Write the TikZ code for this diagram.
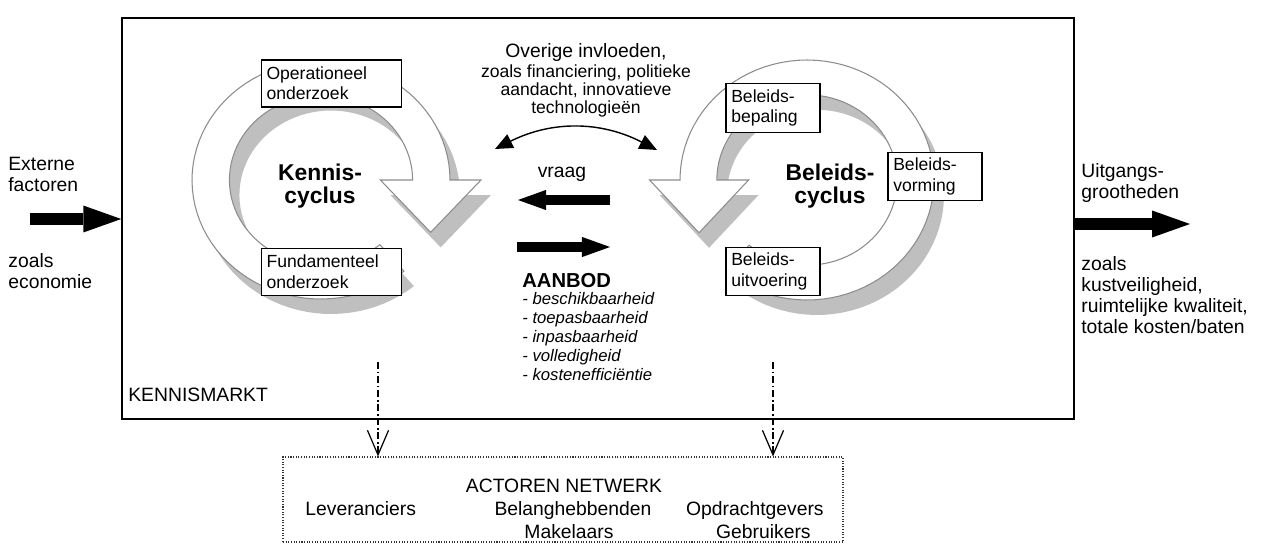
\documentclass[tikz,border=0pt]{standalone}
\usepackage{fontspec}
\setmainfont{Liberation Sans}
\usepackage{tikz}
\usetikzlibrary{arrows.meta, positioning, fit}

\begin{document}
\begin{tikzpicture}[
    x=0.02cm, y=-0.02cm,
    ring/.pic={
        \path[pic actions] plot[domain=50:360, samples=80, variable=\t] ({cos(\t)}, {sin(\t)})
            -- (1.24,0) -- (0.85,0.44) -- (0.46,0)
            -- plot[domain=360:50, samples=80, variable=\t] ({0.71*cos(\t)}, {0.71*sin(\t)}) -- cycle;
    },
    ringshadow/.style={fill=black!25},
    ringfill/.style={fill=white, draw=black!45, line width=0.6pt},
    labelbox/.style={rectangle, draw, fill=white, line width=0.7pt, text width=#1, minimum height=0.94cm, inner xsep=3pt, align=left, font=\fontsize{10}{11.5}\selectfont},
    cyclename/.style={align=center, inner sep=0pt, font=\fontsize{13}{13.5}\selectfont\bfseries},
    txt/.style={inner sep=0pt, align=left, font=\fontsize{11}{12}\selectfont},
    bigarrow/.style={line width=6.8pt, -{Triangle[length=21.5pt, width=15.3pt, line width=0pt]}},
    midarrow/.style={line width=5.7pt, -{Triangle[length=16pt, width=11.5pt, line width=0pt]}},
    bendarrow/.style={line width=0.8pt, {Triangle[length=10pt, width=8.5pt]}-{Triangle[length=10pt, width=8.5pt]}},
    dasharrow/.style={line width=0.7pt, dash pattern=on 4pt off 1.5pt on 1pt off 1.5pt, -{Straight Barb[length=14pt, width=12pt]}}
]
\useasboundingbox (0,0) rectangle (1271,544);

\coordinate (marktlb) at (122,18);
\coordinate (marktro) at (1074,419);
\node[draw, line width=0.9pt, inner sep=0pt, fit=(marktlb)(marktro)] (markt) {};
\node[txt, anchor=base west] (marktnaam) at (128,401) {KENNISMARKT};

\pic[ringshadow, shift={(331,195)}, xscale=129, yscale=119] {ring};
\pic[ringshadow, shift={(817,195)}, xscale=-127, yscale=120] {ring};
\pic[ringfill, shift={(321,180)}, xscale=129, yscale=119] {ring};
\pic[ringfill, shift={(807,180)}, xscale=-127, yscale=120] {ring};

\node[cyclename] (kennis) at (320,186) {Kennis-\\cyclus};
\node[cyclename] (beleid) at (830,186) {Beleids-\\cyclus};

\node[labelbox=2.6cm] (operationeel) at (331.5,83.5) {Operationeel\\onderzoek};
\node[labelbox=2.6cm, below=2.8cm of operationeel] (fundamenteel) {Fundamenteel\\onderzoek};
\node[labelbox=1.67cm] (bepaling) at (773,108) {Beleids-\\bepaling};
\node[labelbox=1.67cm, below=2.28cm of bepaling] (uitvoering) {Beleids-\\uitvoering};
\node[labelbox=1.67cm] (vorming) at (935,176.5) {Beleids-\\vorming};

\node[align=center, inner sep=0pt, font=\fontsize{10}{10.3}\selectfont, anchor=north] (overig) at (586,43)
    {{\fontsize{11}{13}\selectfont Overige invloeden,}\\[1pt]zoals financiering, politieke\\aandacht, innovatieve\\technologieën};
\coordinate (invloedl) at (495,149);
\coordinate (invloedr) at (657,150);
\draw[bendarrow] (invloedl) to[bend left=27] (invloedr);

\node[txt, anchor=base] (vraag) at (562,177) {vraag};
\coordinate (vraagvan) at (610,200);
\coordinate (vraagnaar) at (518,200);
\draw[midarrow] (vraagvan) -- (vraagnaar);
\coordinate (aanbodvan) at (517,247);
\coordinate (aanbodnaar) at (610,247);
\draw[midarrow] (aanbodvan) -- (aanbodnaar);

\node[anchor=base west, inner sep=0pt, font=\fontsize{11.5}{13}\selectfont\bfseries] (aanbod) at (522,287) {AANBOD};
\node[anchor=north west, inner sep=0pt, align=left, font=\fontsize{9.5}{10.8}\selectfont\itshape] (eisen) at (522,292)
    {- beschikbaarheid\\- toepasbaarheid\\- inpasbaarheid\\- volledigheid\\- kostenefficiëntie};

\node[txt, anchor=north west] (extern) at (8,157) {Externe\\factoren};
\node[txt, anchor=north west] (externvb) at (8,253) {zoals\\economie};
\coordinate (externpijl) at (30,219);
\draw[bigarrow] (externpijl) -- (externpijl -| markt.west);

\node[txt, anchor=north west] (uitgang) at (1081,163) {Uitgangs-\\grootheden};
\node[txt, anchor=north west] (uitgangvb) at (1081,256) {zoals\\kustveiligheid,\\ruimtelijke kwaliteit,\\totale kosten/baten};
\coordinate (uitgangpijl) at (1190,224);
\draw[bigarrow] (markt.east |- uitgangpijl) -- (uitgangpijl);

\coordinate (actorlb) at (283,457);
\coordinate (actorro) at (843,542);
\node[draw=black!80, line width=0.6pt, dash pattern=on 0.6pt off 0.9pt, inner sep=0pt, fit=(actorlb)(actorro)] (actoren) {};
\node[txt, anchor=base] (actortitel) at (564,492) {ACTOREN NETWERK};
\node[txt, anchor=base west] (leveranciers) at (305,515) {Leveranciers};
\node[txt, anchor=base] (belang) at (573,515) {Belanghebbenden};
\node[txt, anchor=base] (makelaars) at (569,538) {Makelaars};
\node[txt, anchor=base east] (opdracht) at (824,515) {Opdrachtgevers};
\node[txt, anchor=base east] (gebruikers) at (811,538) {Gebruikers};

\coordinate (kennisdash) at (378,362);
\coordinate (beleiddash) at (773,362);
\draw[dasharrow] (kennisdash) -- (kennisdash |- actoren.north);
\draw[dasharrow] (beleiddash) -- (beleiddash |- actoren.north);
\end{tikzpicture}
\end{document}
